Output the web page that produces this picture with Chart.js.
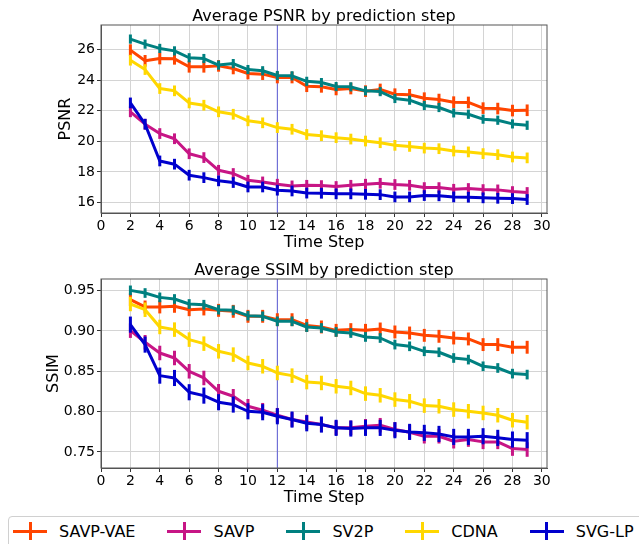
<!DOCTYPE html>
<html>
<head>
<meta charset="utf-8">
<script src="https://cdn.jsdelivr.net/npm/chart.js@4.4.1/dist/chart.umd.min.js"></script>
<style>
    html, body { margin: 0; padding: 0; background: #fff; }
    body { width: 639px; height: 544px; position: relative; overflow: hidden; font-family: 'DejaVu Sans', sans-serif; }
    canvas { position: absolute; left: 0; }
    #psnrChart { top: 0; }
    #ssimChart { top: 255px; }
    #chart-legend {
        position: absolute; left: 8px; top: 516px; width: 680px; height: 44px;
        border: 1px solid #d0d0d0; border-radius: 4px; box-sizing: border-box; background: #fff;
    }
</style>
</head>
<body>
<canvas id="psnrChart" width="639" height="255"></canvas>
<canvas id="ssimChart" width="639" height="255"></canvas>
<div id="chart-legend"></div>
<script>
const steps = [2, 3, 4, 5, 6, 7, 8, 9, 10, 11, 12, 13, 14, 15, 16, 17, 18, 19, 20, 21, 22, 23, 24, 25, 26, 27, 28, 29];
const seriesNames = ['SAVP-VAE', 'SAVP', 'SV2P', 'CDNA', 'SVG-LP'];
const seriesColors = ['#ff4500', '#c71585', '#008080', '#ffd700', '#0000cd'];

// PSNR per step
const psnrSavpVae = [25.96, 25.26, 25.41, 25.39, 24.87, 24.87, 24.93, 24.76, 24.43, 24.39, 24.17, 24.17, 23.60, 23.56, 23.39, 23.45, 23.28, 23.39, 23.08, 23.04, 22.82, 22.73, 22.56, 22.54, 22.17, 22.14, 22.01, 22.03];
const psnrSavp = [21.93, 21.12, 20.51, 20.17, 19.19, 18.94, 18.11, 17.90, 17.46, 17.35, 17.20, 17.09, 17.13, 17.11, 17.05, 17.13, 17.20, 17.26, 17.18, 17.13, 16.98, 16.98, 16.87, 16.92, 16.85, 16.83, 16.72, 16.66];
const psnrSv2p = [26.68, 26.35, 26.07, 25.91, 25.46, 25.41, 24.98, 25.08, 24.69, 24.61, 24.30, 24.28, 23.92, 23.84, 23.58, 23.56, 23.30, 23.25, 22.80, 22.69, 22.34, 22.21, 21.86, 21.77, 21.45, 21.38, 21.14, 21.05];
const psnrCdna = [25.30, 24.69, 23.45, 23.30, 22.51, 22.36, 21.93, 21.77, 21.34, 21.21, 20.90, 20.79, 20.45, 20.37, 20.24, 20.15, 20.02, 19.91, 19.74, 19.67, 19.56, 19.52, 19.37, 19.31, 19.20, 19.13, 18.98, 18.92];
const psnrSvgLp = [22.51, 21.12, 18.72, 18.51, 17.79, 17.63, 17.42, 17.31, 17.02, 17.02, 16.81, 16.76, 16.62, 16.61, 16.57, 16.57, 16.54, 16.52, 16.37, 16.37, 16.46, 16.44, 16.37, 16.35, 16.31, 16.28, 16.26, 16.20];

// SSIM per step
const ssimSavpVae = [0.9388, 0.9298, 0.9298, 0.9306, 0.9264, 0.9273, 0.9256, 0.9244, 0.9182, 0.9182, 0.9140, 0.9140, 0.9068, 0.9050, 0.9008, 0.9017, 0.9008, 0.9025, 0.8988, 0.8975, 0.8946, 0.8934, 0.8913, 0.8901, 0.8831, 0.8831, 0.8798, 0.8798];
const ssimSavp = [0.9004, 0.8860, 0.8727, 0.8665, 0.8500, 0.8417, 0.8252, 0.8190, 0.8066, 0.8017, 0.7955, 0.7901, 0.7870, 0.7839, 0.7798, 0.7798, 0.7818, 0.7831, 0.7777, 0.7744, 0.7694, 0.7694, 0.7632, 0.7653, 0.7624, 0.7624, 0.7541, 0.7529];
const ssimSv2p = [0.9504, 0.9471, 0.9417, 0.9397, 0.9335, 0.9326, 0.9264, 0.9256, 0.9190, 0.9182, 0.9120, 0.9120, 0.9048, 0.9037, 0.8988, 0.8975, 0.8926, 0.8913, 0.8831, 0.8810, 0.8748, 0.8736, 0.8665, 0.8645, 0.8562, 0.8541, 0.8471, 0.8459];
const ssimCdna = [0.9335, 0.9264, 0.9050, 0.9017, 0.8893, 0.8843, 0.8748, 0.8707, 0.8603, 0.8562, 0.8479, 0.8446, 0.8366, 0.8355, 0.8314, 0.8293, 0.8223, 0.8202, 0.8149, 0.8128, 0.8074, 0.8066, 0.8025, 0.8004, 0.7983, 0.7955, 0.7893, 0.7868];
const ssimSvgLp = [0.9079, 0.8831, 0.8446, 0.8417, 0.8240, 0.8198, 0.8116, 0.8087, 0.8004, 0.7992, 0.7942, 0.7901, 0.7855, 0.7839, 0.7798, 0.7790, 0.7798, 0.7798, 0.7769, 0.7748, 0.7736, 0.7723, 0.7686, 0.7686, 0.7694, 0.7674, 0.7653, 0.7645];

// half length of the error bars, one per series
const psnrErr = [0.38, 0.35, 0.30, 0.35, 0.35];
const ssimErr = [0.008, 0.009, 0.006, 0.009, 0.010];

const xTicks = [0, 2, 4, 6, 8, 10, 12, 14, 16, 18, 20, 22, 24, 26, 28, 30];
const psnrTicks = [16, 18, 20, 22, 24, 26];
const ssimTicks = [0.75, 0.80, 0.85, 0.90, 0.95];
const splitStep = 12;

Chart.defaults.font.family = "'DejaVu Sans', sans-serif";
Chart.defaults.color = '#000';

// vertical error bars, drawn just before each line so the line sits on top
const errorBarPlugin = {
    id: 'errorBars',
    beforeDatasetDraw(chart, args) {
        const ds = chart.data.datasets[args.index];
        const yScale = chart.scales.y;
        const ctx = chart.ctx;
        ctx.save();
        ctx.strokeStyle = ds.borderColor;
        ctx.lineWidth = 3;
        args.meta.data.forEach((pt, i) => {
            const v = ds.data[i].y;
            ctx.beginPath();
            ctx.moveTo(pt.x, yScale.getPixelForValue(v - ds.err));
            ctx.lineTo(pt.x, yScale.getPixelForValue(v + ds.err));
            ctx.stroke();
        });
        ctx.restore();
    }
};

// full axes box, the marker line at splitStep and the title above the plot
const framePlugin = {
    id: 'frame',
    beforeDatasetsDraw(chart) {
        const { ctx, chartArea } = chart;
        const x = chart.scales.x.getPixelForValue(splitStep);
        ctx.save();
        ctx.strokeStyle = '#5c5cd6';
        ctx.lineWidth = 1;
        ctx.beginPath();
        ctx.moveTo(x, chartArea.top);
        ctx.lineTo(x, chartArea.bottom);
        ctx.stroke();
        ctx.restore();
    },
    afterDraw(chart, args, options) {
        const { ctx, chartArea } = chart;
        ctx.save();
        ctx.strokeStyle = '#555';
        ctx.lineWidth = 1;
        ctx.strokeRect(chartArea.left, chartArea.top, chartArea.right - chartArea.left, chartArea.bottom - chartArea.top);
        ctx.fillStyle = '#000';
        ctx.font = "16px 'DejaVu Sans'";
        ctx.textAlign = 'center';
        ctx.textBaseline = 'alphabetic';
        ctx.fillText(options.text, (chartArea.left + chartArea.right) / 2, chartArea.top - 4.5);
        ctx.restore();
    }
};

function buildDatasets(seriesValues, errs) {
    return seriesValues.map((values, i) => ({
        label: seriesNames[i],
        data: steps.map((s, j) => ({ x: s, y: values[j] })),
        borderColor: seriesColors[i],
        backgroundColor: seriesColors[i],
        borderWidth: 3,
        borderJoinStyle: 'round',
        pointRadius: 0,
        err: errs[i],
        order: seriesNames.length - i
    }));
}

function makeConfig(opts) {
    return {
        type: 'line',
        data: { datasets: buildDatasets(opts.series, opts.errs) },
        options: {
            responsive: false,
            animation: false,
            devicePixelRatio: 1,
            layout: { padding: { left: 0, right: 92, top: opts.top, bottom: 0 } },
            plugins: {
                legend: { display: false },
                tooltip: { enabled: false },
                frame: { text: opts.title }
            },
            scales: {
                x: {
                    type: 'linear',
                    min: 0,
                    max: 30.35,
                    afterBuildTicks: (scale) => { scale.ticks = xTicks.map(v => ({ value: v })); },
                    afterFit: (scale) => { scale.height = opts.xHeight; },
                    grid: { color: '#d4d4d4', tickLength: 4, tickColor: '#333' },
                    border: { color: '#555' },
                    ticks: { font: { size: 14 }, color: '#000', padding: 1, maxRotation: 0, autoSkip: false },
                    title: { display: true, text: 'Time Step', font: { size: 16 }, color: '#000', padding: { top: 0, bottom: 3 } }
                },
                y: {
                    min: opts.yMin,
                    max: opts.yMax,
                    afterBuildTicks: (scale) => { scale.ticks = opts.yTicks.map(v => ({ value: v })); },
                    afterFit: (scale) => { scale.width = 101; },
                    grid: { color: '#d4d4d4', tickLength: 4, tickColor: '#333' },
                    border: { color: '#555' },
                    ticks: { font: { size: 14 }, color: '#000', padding: 2, autoSkip: false, callback: opts.tickFormat },
                    title: { display: true, text: opts.yTitle, font: { size: 16 }, color: '#000', padding: { top: opts.yTitlePad, bottom: 0 } }
                }
            }
        },
        plugins: [errorBarPlugin, framePlugin]
    };
}

new Chart(document.getElementById('psnrChart'), makeConfig({
    title: 'Average PSNR by prediction step',
    yTitle: 'PSNR',
    series: [psnrSavpVae, psnrSavp, psnrSv2p, psnrCdna, psnrSvgLp],
    errs: psnrErr,
    yMin: 15.32, yMax: 27.6,
    yTicks: psnrTicks,
    tickFormat: (v) => String(v),
    top: 25, xHeight: 42, yTitlePad: 56
}));

new Chart(document.getElementById('ssimChart'), makeConfig({
    title: 'Average SSIM by prediction step',
    yTitle: 'SSIM',
    series: [ssimSavpVae, ssimSavp, ssimSv2p, ssimCdna, ssimSvgLp],
    errs: ssimErr,
    yMin: 0.730, yMax: 0.9645,
    yTicks: ssimTicks,
    tickFormat: (v) => v.toFixed(2),
    top: 24, xHeight: 42, yTitlePad: 44
}));

// legend shared by both charts
const legendContainer = document.getElementById('chart-legend');
const ul = document.createElement('ul');
ul.style.display = 'flex';
ul.style.margin = 0;
ul.style.padding = '4px 0 0 4px';
ul.style.listStyle = 'none';
legendContainer.appendChild(ul);

seriesNames.forEach((name, i) => {
    const li = document.createElement('li');
    li.style.display = 'flex';
    li.style.alignItems = 'center';
    li.style.height = '20px';
    li.style.marginRight = '32px';
    li.style.whiteSpace = 'nowrap';

    // "+" marker
    const marker = document.createElement('span');
    marker.style.position = 'relative';
    marker.style.display = 'inline-block';
    marker.style.width = '34px';
    marker.style.height = '18px';
    marker.style.marginRight = '12px';
    marker.style.flexShrink = 0;
    const hBar = document.createElement('span');
    hBar.style.cssText = `position:absolute;left:0;top:7.5px;width:34px;height:3px;background:${seriesColors[i]}`;
    const vBar = document.createElement('span');
    vBar.style.cssText = `position:absolute;left:15.5px;top:0;width:3px;height:18px;background:${seriesColors[i]}`;
    marker.appendChild(hBar);
    marker.appendChild(vBar);

    const text = document.createElement('span');
    text.style.fontSize = '16px';
    text.style.color = '#000';
    text.textContent = name;

    li.appendChild(marker);
    li.appendChild(text);
    ul.appendChild(li);
});
</script>
</body>
</html>
